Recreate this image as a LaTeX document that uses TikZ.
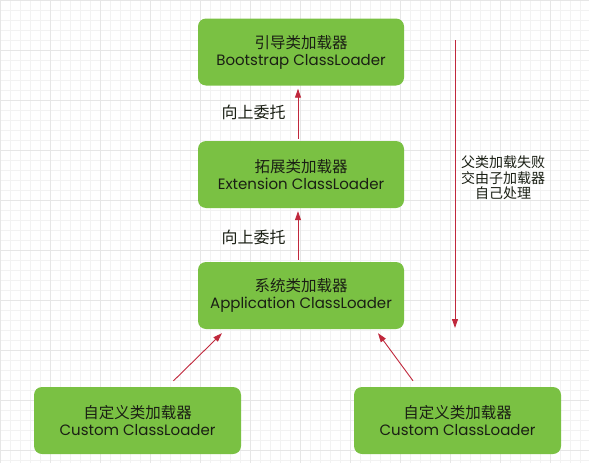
\documentclass[tikz,border=0pt]{standalone}
\usepackage{fontspec}
\setmainfont{Poppins}
\newfontfamily\cjk{Noto Sans CJK SC}
\usetikzlibrary{arrows.meta}
\definecolor{boxgreen}{HTML}{7AC143}
\definecolor{txtdark}{HTML}{1A1F14}
\definecolor{arrred}{HTML}{C0283C}
\definecolor{gridminor}{HTML}{F2F2F2}
\definecolor{gridmajor}{HTML}{E6E6E6}
\begin{document}
\begin{tikzpicture}[x=1pt,y=-1pt,
  box/.style={rectangle, rounded corners=8pt, fill=boxgreen, minimum width=206pt,
    minimum height=67pt, align=center, text=txtdark, font=\fontsize{15}{17}\selectfont, inner sep=0pt},
  cn/.style={font=\cjk\fontsize{15.5}{17}\selectfont},
  arr/.style={draw=arrred, line width=0.9pt, -{Triangle[length=9pt,width=6pt]}},
  lbl/.style={text=txtdark, align=center, inner sep=0pt}]
\useasboundingbox (0,0) rectangle (589,463);
\fill[white] (0,0) rectangle (589,463);
\foreach \i in {0,10,...,580} \draw[gridminor, line width=0.4pt] (\i,0) -- (\i,463);
\foreach \j in {0,10,...,460} \draw[gridminor, line width=0.4pt] (0,\j) -- (589,\j);
\foreach \i in {0,50,...,550} \draw[gridmajor, line width=0.4pt] (\i,0) -- (\i,463);
\foreach \j in {0,50,...,450} \draw[gridmajor, line width=0.4pt] (0,\j) -- (589,\j);

\node[box] (boot) at (301,52) {{\cjk\fontsize{15.5}{17}\selectfont 引导类加载器}\\Bootstrap ClassLoader};
\node[box] (ext) at (301,174.5) {{\cjk\fontsize{15.5}{17}\selectfont 拓展类加载器}\\Extension ClassLoader};
\node[box] (app) at (301,295.5) {{\cjk\fontsize{15.5}{17}\selectfont 系统类加载器}\\Application ClassLoader};
\node[box, minimum width=207pt] (c1) at (137.5,420.5) {{\cjk\fontsize{15.5}{17}\selectfont 自定义类加载器}\\Custom ClassLoader};
\node[box, minimum width=207pt] (c2) at (457.5,420.5) {{\cjk\fontsize{15.5}{17}\selectfont 自定义类加载器}\\Custom ClassLoader};

\draw[arr] ([xshift=-3pt,yshift=2pt]ext.north) -- ([xshift=-3pt,yshift=-3pt]boot.south);
\draw[arr] ([xshift=-3pt,yshift=2pt]app.north) -- ([xshift=-3pt,yshift=-3pt]ext.south);
\draw[arr] ([xshift=36pt,yshift=6pt]c1.north) -- ([xshift=-79pt,yshift=-4pt]app.south);
\draw[arr] ([xshift=-44.5pt,yshift=6pt]c2.north) -- ([xshift=77pt,yshift=-4pt]app.south);

\node[lbl, font=\cjk\fontsize{16}{17}\selectfont] (d1) at (253.5,112) {向上委托};
\node[lbl, font=\cjk\fontsize{16}{17}\selectfont] (d2) at (253.5,237) {向上委托};

\coordinate (ftop) at (455,40);
\coordinate (fbot) at (455,328);
\draw[arr] (ftop) -- (fbot);
\node[lbl, font=\cjk\fontsize{14}{15.5}\selectfont] (fail) at (503,178) {父类加载失败\\交由子加载器\\自己处理};
\end{tikzpicture}
\end{document}
